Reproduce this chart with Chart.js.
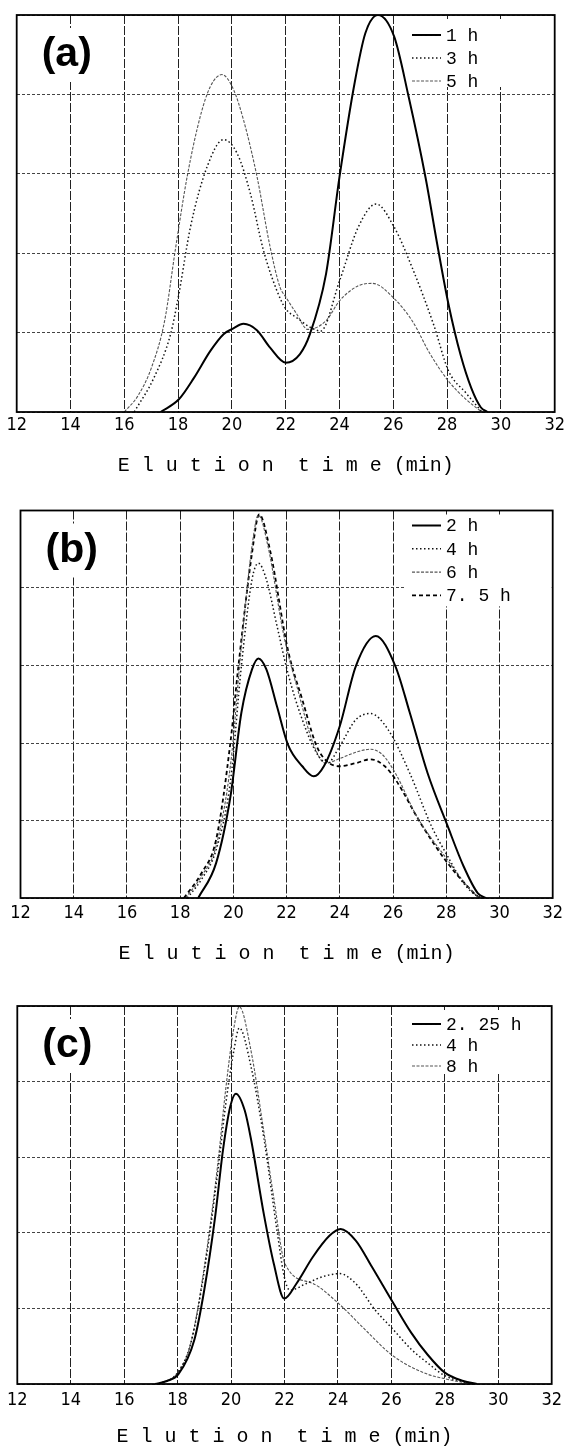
<!DOCTYPE html>
<html><head><meta charset="utf-8">
<script src="https://cdn.jsdelivr.net/npm/chart.js@4.4.1/dist/chart.umd.min.js"></script>
<style>
html,body{margin:0;padding:0;background:#fff;width:569px;height:1448px;overflow:hidden;}
canvas{position:absolute;left:0;}
</style></head><body>
<canvas id="ca" width="569" height="490" style="top:0px"></canvas>
<canvas id="cb" width="569" height="480" style="top:490px"></canvas>
<canvas id="cc" width="569" height="458" style="top:990px"></canvas>
<script>
// ---------- tick labels / axis ----------
const xTickValues = [12,14,16,18,20,22,24,26,28,30,32];
const xTitle = "E l u t i o n  t i m e (min)";
const panelLabels = ["(a)", "(b)", "(c)"];

// ---------- panel (a) ----------
const aLabels = ["1 h", "3 h", "5 h"];
const a1hX = [17.35,18.03,18.59,19.2,19.69,20.04,20.43,20.93,21.42,22.0,22.53,22.9,23.5,24.0,24.56,24.96,25.43,26.03,26.57,27.2,27.64,28.05,28.5,28.9,29.25,29.5];
const a1hY = [0,0.16,0.43,0.77,0.98,1.05,1.11,1.03,0.81,0.62,0.73,0.98,1.74,2.96,4.14,4.77,5.0,4.73,3.97,2.95,2.1,1.36,0.72,0.3,0.06,0];
const a3hX = [16.37,17.1,17.72,18.03,18.46,19.08,19.69,20.19,20.68,21.17,21.67,22.0,22.4,22.9,23.3,24.0,24.7,25.36,26.03,26.7,27.5,28.05,28.7,29.3];
const a3hY = [0,0.43,0.98,1.49,2.33,3.09,3.43,3.26,2.76,2.04,1.53,1.3,1.19,1.07,1.02,1.65,2.33,2.62,2.33,1.82,1.1,0.52,0.24,0];
const a5hX = [16.0,16.5,17.0,17.5,17.9,18.34,18.83,19.2,19.63,20.06,20.43,20.93,21.42,21.79,22.0,22.4,22.82,23.5,24.0,24.7,25.23,26.0,26.7,27.37,28.05,28.7,29.25];
const a5hY = [0,0.2,0.55,1.15,2.05,2.97,3.73,4.1,4.25,4.06,3.68,2.97,2.08,1.57,1.45,1.24,1.04,1.15,1.4,1.59,1.62,1.44,1.15,0.73,0.39,0.16,0.01];

// ---------- panel (b) ----------
const bLabels = ["2 h", "4 h", "6 h", "7. 5 h"];
const b2hX = [18.68,19.35,19.89,20.3,20.7,20.94,21.24,21.64,22.05,22.59,23.02,23.4,24.0,24.6,25.35,26.09,26.63,27.3,28.05,28.65,29.19,29.5];
const b2hY = [0,0.45,1.31,2.39,2.95,3.09,2.95,2.47,1.98,1.70,1.57,1.70,2.22,2.99,3.38,2.99,2.39,1.61,0.93,0.41,0.06,0];
const b4hX = [18.27,18.8,19.35,19.9,20.3,20.7,20.94,21.24,21.64,22.05,22.59,23.13,23.53,24.0,24.6,25.15,25.82,26.63,27.44,28.05,28.65,29.19,29.4];
const b4hY = [0,0.24,0.62,1.53,2.99,4.11,4.32,4.11,3.51,2.9,2.3,1.87,1.74,1.96,2.3,2.38,2.17,1.61,0.93,0.54,0.19,0.02,0];
const b6hX = [18.2,18.8,19.35,19.9,20.3,20.7,20.94,21.3,21.9,22.45,22.99,23.46,24.0,24.6,25.15,25.6,26.09,26.9,28.05,28.8,29.19,29.4];
const b6hY = [0,0.28,0.67,1.74,3.25,4.54,4.94,4.54,3.38,2.65,2.0,1.74,1.8,1.88,1.92,1.85,1.61,1.05,0.49,0.15,0.02,0];
const b75hX = [18.14,18.8,19.35,19.9,20.16,20.7,20.97,21.37,22.05,22.59,23.13,23.53,24.0,24.6,25.15,25.69,26.09,27.03,28.05,28.8,29.19,29.4];
const b75hY = [0,0.32,0.75,2.04,2.9,4.45,4.95,4.5,3.2,2.56,1.96,1.76,1.70,1.74,1.79,1.70,1.53,0.97,0.45,0.15,0.02,0];

// ---------- panel (c) ----------
const cLabels = ["2. 25 h", "4 h", "8 h"];
const c225hX = [17.16,17.6,18.03,18.63,19.0,19.4,19.7,19.97,20.18,20.51,20.74,21.23,21.6,21.99,22.45,23.06,23.68,24.1,24.66,25.27,26.07,26.74,27.35,28.0,28.69,29.2];
const c225hY = [0,0.04,0.13,0.59,1.25,2.2,3.1,3.67,3.84,3.62,3.25,2.24,1.59,1.13,1.33,1.68,1.96,2.05,1.9,1.55,1.07,0.68,0.39,0.15,0.04,0];
const c4hX = [17.3,18.0,18.5,19.0,19.5,19.8,20.1,20.31,20.74,21.23,21.72,21.99,22.2,22.82,23.43,24.07,24.66,25.39,26.07,26.74,27.35,28.0,28.7,29.2];
const c4hY = [0,0.15,0.55,1.5,2.8,3.7,4.4,4.71,4.21,3.25,2.03,1.42,1.24,1.33,1.42,1.46,1.33,0.98,0.72,0.46,0.28,0.11,0.03,0];
const c8hX = [17.3,18.0,18.5,19.0,19.5,19.8,20.1,20.31,20.74,21.23,21.6,22.02,23.06,24.07,24.9,26.07,27.35,28.0,28.7,29.2];
const c8hY = [0,0.15,0.55,1.55,2.9,3.9,4.7,4.99,4.42,3.33,2.46,1.59,1.33,1.05,0.76,0.37,0.13,0.07,0.02,0];

// ---------- styles ----------
const STY = {
  solid:  {borderColor:'#000', borderWidth:2.0, borderDash:[]},
  dotted: {borderColor:'#111', borderWidth:1.5, borderDash:[1.5,2.5]},
  thin:   {borderColor:'#555', borderWidth:1.1, borderDash:[3,1.5]},
  dashed: {borderColor:'#000', borderWidth:1.8, borderDash:[4,3]}
};
function pts(xs, ys){ return xs.map((x,i)=>({x:x, y:ys[i]})); }
function ds(label, xs, ys, st){
  return Object.assign({label:label, data:pts(xs,ys), pointRadius:0, fill:false,
    cubicInterpolationMode:'monotone'}, st);
}

const panels = [
  {id:'ca', label:panelLabels[0], pad:{left:16.7,right:12,top:15}, xh:78, tickPad:4, titlePad:14,
   legendTop:20, legendStep:23,
   datasets:[ds(aLabels[0],a1hX,a1hY,STY.solid), ds(aLabels[1],a3hX,a3hY,STY.dotted), ds(aLabels[2],a5hX,a5hY,STY.thin)]},
  {id:'cb', label:panelLabels[1], pad:{left:20.5,right:11,top:20.5}, xh:72, tickPad:6, titlePad:6,
   legendTop:15, legendStep:23.3,
   datasets:[ds(bLabels[0],b2hX,b2hY,STY.solid), ds(bLabels[1],b4hX,b4hY,STY.dotted), ds(bLabels[2],b6hX,b6hY,STY.thin), ds(bLabels[3],b75hX,b75hY,STY.dashed)]},
  {id:'cc', label:panelLabels[2], pad:{left:16,right:12,top:16}, xh:64, tickPad:7, titlePad:1,
   legendTop:18, legendStep:21,
   datasets:[ds(cLabels[0],c225hX,c225hY,STY.solid), ds(cLabels[1],c4hX,c4hY,STY.dotted), ds(cLabels[2],c8hX,c8hY,STY.thin)]}
];

const decor = {
  id:'decor',
  beforeDatasetsDraw(chart, args, opts){
    const ctx = chart.ctx, ca = chart.chartArea;
    ctx.save();
    // panel label
    ctx.font = 'bold 41px "Liberation Sans", Arial, sans-serif';
    ctx.textBaseline = 'middle'; ctx.textAlign = 'left';
    const lx = ca.left + 25, ly = ca.top + 40;
    const w = ctx.measureText(opts.label).width;
    ctx.fillStyle = '#fff';
    ctx.fillRect(lx - 5, ly - 27, w + 10, 54);
    ctx.fillStyle = '#000';
    ctx.fillText(opts.label, lx, ly);
    // legend
    const n = chart.data.datasets.length;
    const top = ca.top + opts.legendTop;
    ctx.fillStyle = '#fff';
    ctx.fillRect(404, ca.top + 4, ca.right - 405, opts.legendStep*(n-1) + 22);
    ctx.font = '18px "Liberation Mono", "DejaVu Sans Mono", monospace';
    chart.data.datasets.forEach((d,i)=>{
      const y = top + i*opts.legendStep;
      ctx.beginPath();
      ctx.strokeStyle = d.borderColor; ctx.lineWidth = d.borderWidth;
      ctx.setLineDash(d.borderDash || []);
      ctx.moveTo(412, y); ctx.lineTo(441, y); ctx.stroke();
      ctx.setLineDash([]);
      ctx.fillStyle = '#000';
      ctx.fillText(d.label, 446, y + 1);
    });
    ctx.restore();
  },
  afterDraw(chart){
    const ctx = chart.ctx, ca = chart.chartArea;
    ctx.save();
    ctx.strokeStyle = '#000'; ctx.lineWidth = 1.8;
    ctx.strokeRect(ca.left, ca.top, ca.right - ca.left, ca.bottom - ca.top);
    ctx.restore();
  }
};

panels.forEach(p=>{
  new Chart(document.getElementById(p.id), {
    type:'line',
    data:{datasets:p.datasets},
    plugins:[decor],
    options:{
      responsive:false, animation:false, devicePixelRatio:1,
      layout:{padding:{left:p.pad.left, right:p.pad.right, top:p.pad.top, bottom:0}},
      plugins:{legend:{display:false}, tooltip:{enabled:false},
        decor:{label:p.label, legendTop:p.legendTop, legendStep:p.legendStep}},
      scales:{
        x:{type:'linear', min:12, max:32,
          afterBuildTicks:(s)=>{ s.ticks = xTickValues.map(v=>({value:v})); },
          afterFit:(s)=>{ s.height = p.xh; },
          ticks:{padding:p.tickPad, maxRotation:0, autoSkip:false, color:'#000',
            font:{family:'"Liberation Sans Narrow", "DejaVu Sans Condensed", "Liberation Sans", sans-serif', size:18, lineHeight:1}},
          grid:{color:'#222', lineWidth:1, drawTicks:false},
          border:{display:false, dash:[9,2]},
          title:{display:true, text:xTitle, color:'#000', padding:{top:0,bottom:p.titlePad},
            font:{family:'"Liberation Mono", "DejaVu Sans Mono", monospace', size:20, lineHeight:1}}
        },
        y:{type:'linear', min:0, max:5,
          ticks:{display:false, stepSize:1},
          grid:{color:'#444', lineWidth:1, drawTicks:false},
          border:{display:false, dash:[3,2]}
        }
      }
    }
  });
});
</script>
</body></html>
